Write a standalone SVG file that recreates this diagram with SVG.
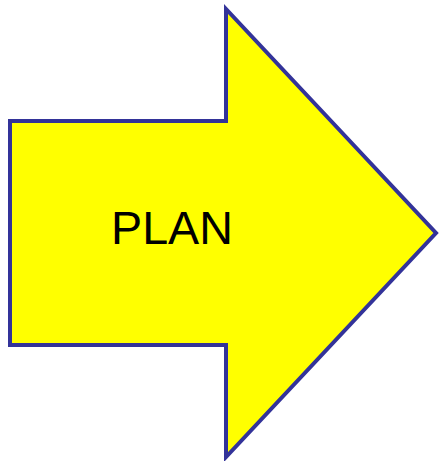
<svg xmlns="http://www.w3.org/2000/svg" width="439" height="461" viewBox="0 0 439 461">
<style>
.arrow{fill:#ffff00;stroke:#333399;stroke-width:4;stroke-linejoin:miter}
.lbl{font-family:"Liberation Sans",Arial,sans-serif;font-size:47px;fill:#000}
</style>
<rect width="439" height="461" fill="#ffffff"/>
<g id="plan">
<polygon class="arrow" points="10,121 226,121 226,9 436,233 226,457 226,345 10,345"/>
<text class="lbl" x="172" y="244" text-anchor="middle" textLength="122" lengthAdjust="spacingAndGlyphs">PLAN</text>
</g>
</svg>
